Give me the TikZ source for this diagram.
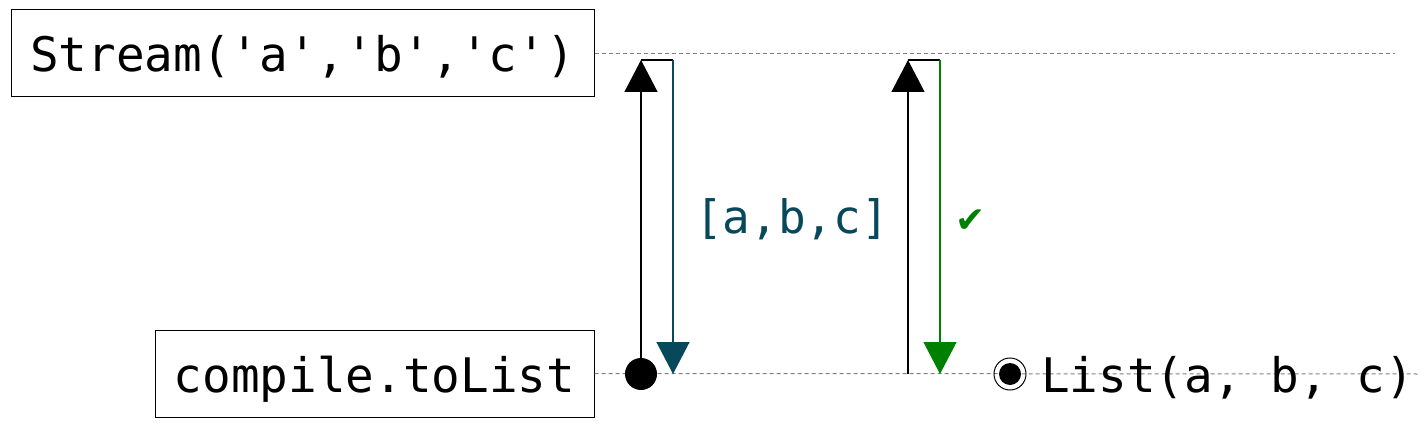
\documentclass[tikz,border=0pt]{standalone}
\usepackage{fontspec}
\setmonofont{DejaVu Sans Mono}
\newfontfamily\symfont{DejaVu Sans}
\usetikzlibrary{arrows.meta}
\definecolor{tealc}{HTML}{07485A}
\definecolor{greenc}{HTML}{008000}
\tikzset{
  box/.style={draw, line width=1pt, inner sep=0pt, text height=40pt, text depth=3pt,
    font=\fontsize{47.6}{50}\selectfont\ttfamily},
  life/.style={draw=gray, line width=1pt, dash pattern=on 4pt off 3pt},
  msg/.style={line width=1.3pt},
  tip/.style={-{Triangle[width=33pt,length=32pt]}},
  lbl/.style={inner sep=0pt, anchor=base},
}
\begin{document}
\begin{tikzpicture}[x=1pt,y=-1pt]
\useasboundingbox (0,0) rectangle (1428,428);
% boxes
\node[box, minimum width=583pt, minimum height=87pt] (stream) at (302.5,53.5) {Stream('a','b','c')};
\node[box, minimum width=439pt, minimum height=87pt] (comp) at (374.5,373.5) {compile.toList};
% lifelines
\coordinate (topend) at (1395,54);
\coordinate (botend) at (1420,374);
\draw[life] (stream.east |- 0,54) -- (topend);
\draw[life] (comp.east) -- (botend);
% first exchange
\node[circle, fill=black, inner sep=0pt, minimum size=32pt] (dot) at (641,374) {};
\coordinate (t1) at (641,60);
\coordinate (t1r) at (673,60);
\coordinate (b1r) at (673,374);
\draw[msg, tip] (dot.center) -- (t1);
\draw[msg] (t1) -- (t1r);
\draw[msg, tealc, tip] (t1r) -- (b1r);
\node[lbl, text=tealc, font=\fontsize{46}{50}\selectfont\ttfamily] (res) at (792,233) {[a,b,c]};
% second exchange
\coordinate (b2) at (908,374);
\coordinate (t2) at (908,60);
\coordinate (t2r) at (940,60);
\coordinate (b2r) at (940,374);
\draw[msg, tip] (b2) -- (t2);
\draw[msg] (t2) -- (t2r);
\draw[msg, greenc, tip] (t2r) -- (b2r);
\node[lbl, text=greenc, font=\fontsize{36}{40}\selectfont\symfont] (ok) at (971,232) {✔};
% end marker
\node[circle, draw=black, line width=1pt, inner sep=0pt, minimum size=32pt] (endm) at (1010,374) {};
\node[circle, fill=black, inner sep=0pt, minimum size=22pt] (endd) at (endm.center) {};
\node[inner sep=0pt, anchor=base west, font=\fontsize{47.6}{50}\selectfont\ttfamily] (list) at (1041,392) {List(a, b, c)};
\end{tikzpicture}
\end{document}
